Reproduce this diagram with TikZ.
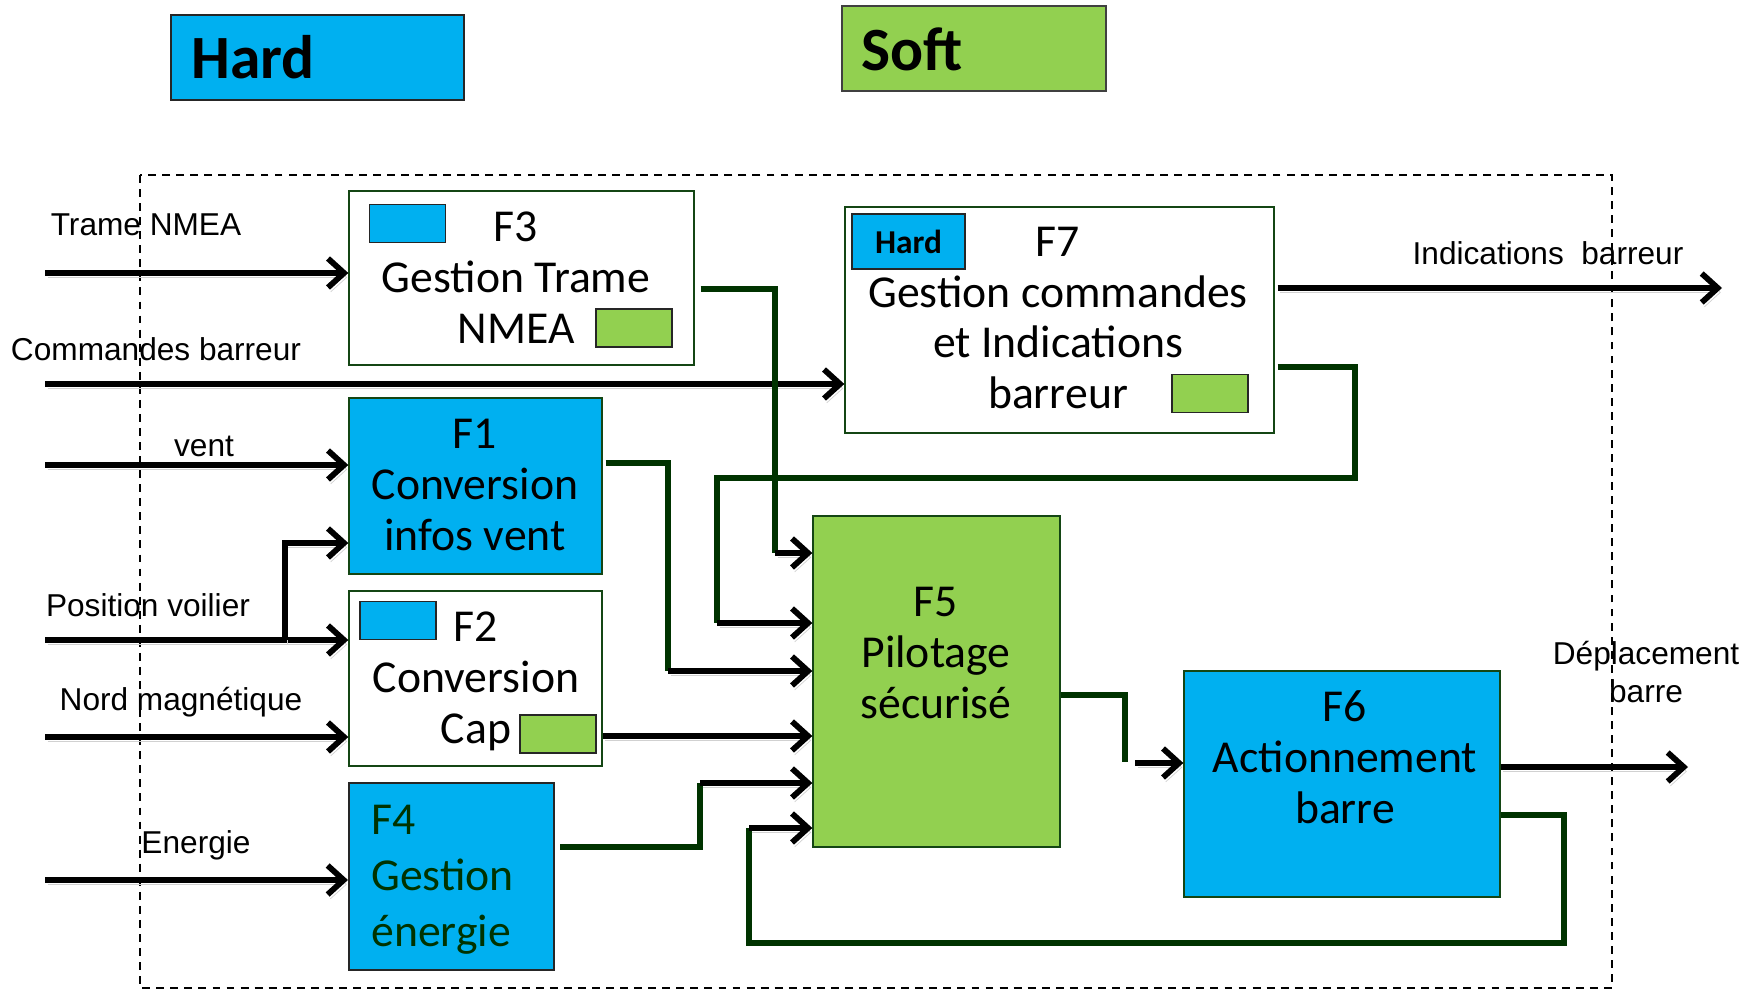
\documentclass[tikz,border=0pt]{standalone}
\usepackage{fontspec}
\setmainfont{Liberation Sans}
\newfontfamily\comicfont{Carlito}
\usepackage{tikz}
\usetikzlibrary{arrows.meta, positioning, calc}
\definecolor{hardblue}{RGB}{0,176,240}
\definecolor{softgreen}{RGB}{146,208,80}
\definecolor{wiregreen}{RGB}{0,51,0}
\definecolor{framegreen}{RGB}{20,70,20}

\begin{document}
\begin{tikzpicture}[x=0.02cm, y=-0.02cm,
    fbox/.style={draw=framegreen, line width=0.8pt, inner sep=0pt},
    ftext/.style={font=\comicfont\fontsize{26}{29}\selectfont, align=center, inner sep=0pt},
    minisq/.style={draw=black!85, line width=0.9pt, minimum width=1.52cm, minimum height=0.76cm, inner sep=0pt},
    sig/.style={line width=3.3pt, -{Straight Barb[length=0.32cm, width=0.58cm]},
        preaction={draw=black!18, transform canvas={shift={(1.5pt,-2.5pt)}}}},
    wire/.style={draw=wiregreen, line width=3.4pt},
    inlabel/.style={font=\fontsize{18}{22}\selectfont, inner sep=0pt}]
    \useasboundingbox (0,0) rectangle (1758,990);

    % Legend
    \node[fbox, draw=black!85, line width=1.2pt, fill=hardblue, minimum width=5.86cm, minimum height=1.7cm] (legHard) at (317.5,57.5) {};
    \node[anchor=west, inner sep=0pt, font=\comicfont\bfseries\fontsize{35}{40}\selectfont] (legHardT) at (191,57) {Hard};
    \node[fbox, draw=black!75, line width=1.2pt, fill=softgreen, minimum width=5.28cm, minimum height=1.7cm] (legSoft) at (974,48.5) {};
    \node[anchor=west, inner sep=0pt, font=\comicfont\bfseries\fontsize{35}{40}\selectfont] (legSoftT) at (861,49) {Soft};

    % System boundary
    \draw[line width=1pt, dash pattern=on 4.5pt off 3.5pt] (140,175) rectangle (1612,988);

    % Function blocks
    \node[fbox, fill=white, minimum width=6.9cm, minimum height=3.48cm] (F3) at (521.5,278) {};
    \node[minisq, fill=hardblue] (F3h) at (407.5,223.5) {};
    \node[minisq, fill=softgreen] (F3s) at (634,328) {};
    \node[ftext] (F3t) at (516,278) {F3\\Gestion Trame\\NMEA};

    \node[fbox, fill=white, minimum width=8.58cm, minimum height=4.52cm] (F7) at (1059.5,320) {};
    \node[minisq, fill=hardblue, minimum width=2.26cm, minimum height=1.1cm,
          font=\comicfont\bfseries\fontsize{19}{22}\selectfont] (F7h) at (908.5,241.5) {Hard};
    \node[minisq, fill=softgreen] (F7s) at (1210,393.5) {};
    \node[ftext] (F7t) at (1058,318) {F7\\Gestion commandes\\et Indications\\barreur};

    \node[fbox, fill=hardblue, minimum width=5.06cm, minimum height=3.52cm] (F1) at (475.5,486) {};
    \node[ftext] (F1t) at (475,485) {F1\\Conversion\\infos vent};

    \node[fbox, fill=white, minimum width=5.06cm, minimum height=3.5cm] (F2) at (475.5,678.5) {};
    \node[minisq, fill=hardblue] (F2h) at (398,620.5) {};
    \node[minisq, fill=softgreen] (F2s) at (558,734) {};
    \node[ftext] (F2t) at (476,681) {F2\\Conversion\\Cap};

    \node[fbox, draw=black!85, line width=1.2pt, fill=hardblue, minimum width=4.1cm, minimum height=3.74cm] (F4) at (451.5,876.5) {};
    \node[ftext, align=left, anchor=west, text=wiregreen, font=\comicfont\fontsize{26}{32}\selectfont] (F4t) at (371,880) {F4\\Gestion\\énergie};

    \node[fbox, fill=softgreen, minimum width=4.94cm, minimum height=6.62cm] (F5) at (936.5,681.5) {};
    \node[ftext] (F5t) at (936,653) {F5\\Pilotage\\sécurisé};

    \node[fbox, fill=hardblue, minimum width=6.32cm, minimum height=4.52cm] (F6) at (1342,784) {};
    \node[ftext] (F6t) at (1345,757) {F6\\Actionnement\\barre};

    % Inputs
    \coordinate (inTrame) at (45,273);
    \coordinate (inCmd) at (45,384);
    \coordinate (inVent) at (45,465);
    \coordinate (inPos) at (45,640);
    \coordinate (posBranch) at (285,640);
    \coordinate (posUp) at (285,543);
    \coordinate (inNord) at (45,737);
    \coordinate (inEnergie) at (45,880);
    \draw[sig] (inTrame) -- (inTrame -| F3.west);
    \draw[sig] (inCmd) -- (inCmd -| F7.west);
    \draw[sig] (inVent) -- (inVent -| F1.west);
    \draw[sig] (inPos) -- (inPos -| F2.west);
    \draw[sig] (posBranch) -- (posUp) -- (posUp -| F1.west);
    \draw[sig] (inNord) -- (inNord -| F2.west);
    \draw[sig] (inEnergie) -- (inEnergie -| F4.west);

    \node[inlabel] (lTrame) at (146,225) {Trame NMEA};
    \node[inlabel] (lCmd) at (156,349) {Commandes barreur};
    \node[inlabel] (lVent) at (204,446) {vent};
    \node[inlabel] (lPos) at (148,605) {Position voilier};
    \node[inlabel] (lNord) at (181,702) {Nord magnétique};
    \node[inlabel] (lEnergie) at (196,845) {Energie};

    % Internal links
    \coordinate (w3) at (775,289);
    \coordinate (w3b) at (775,553);
    \draw[wire, shorten <=0.12cm] (F3.east |- w3) -- (w3) -- (w3b);
    \draw[sig] (w3b) -- (w3b -| F5.west);

    \coordinate (w1) at (668,463);
    \coordinate (w1b) at (668,671);
    \draw[wire, shorten <=0.06cm] (F1.east |- w1) -- (w1) -- (w1b);
    \draw[sig] (w1b) -- (w1b -| F5.west);

    \coordinate (w2) at (606,736);
    \draw[sig] (F2.east |- w2) -- (w2 -| F5.west);

    \coordinate (w4) at (700,847);
    \coordinate (w4b) at (700,783);
    \draw[wire, shorten <=0.1cm] (F4.east |- w4) -- (w4) -- (w4b);
    \draw[sig] (w4b) -- (w4b -| F5.west);

    \coordinate (w7) at (1355,367);
    \coordinate (w7b) at (1355,478);
    \coordinate (w7c) at (717,478);
    \coordinate (w7d) at (717,623);
    \draw[wire, shorten <=0.06cm] (F7.east |- w7) -- (w7) -- (w7b) -- (w7c) -- (w7d);
    \draw[sig] (w7d) -- (w7d -| F5.west);

    \coordinate (w5) at (1125,695);
    \coordinate (w5b) at (1125,762);
    \coordinate (w5c) at (1135,763);
    \draw[wire] (F5.east |- w5) -- (w5) -- (w5b);
    \draw[sig] (w5c) -- (w5c -| F6.west);

    \coordinate (w6) at (1564,815);
    \coordinate (w6b) at (1564,943);
    \coordinate (w6c) at (749,943);
    \coordinate (w6d) at (749,828);
    \draw[wire] (F6.east |- w6) -- (w6) -- (w6b) -- (w6c) -- (w6d);
    \draw[sig] (w6d) -- (w6d -| F5.west);

    % Outputs
    \coordinate (outInd) at (1722,288);
    \coordinate (outBarre) at (1688,767);
    \draw[sig, shorten <=0.06cm] (F7.east |- outInd) -- (outInd);
    \draw[sig] (F6.east |- outBarre) -- (outBarre);
    \node[inlabel] (lInd) at (1548,253) {Indications\ \ barreur};
    \node[inlabel, align=center, font=\fontsize{18}{22}\selectfont] (lDep) at (1646,672) {Déplacement\\barre};
\end{tikzpicture}
\end{document}
